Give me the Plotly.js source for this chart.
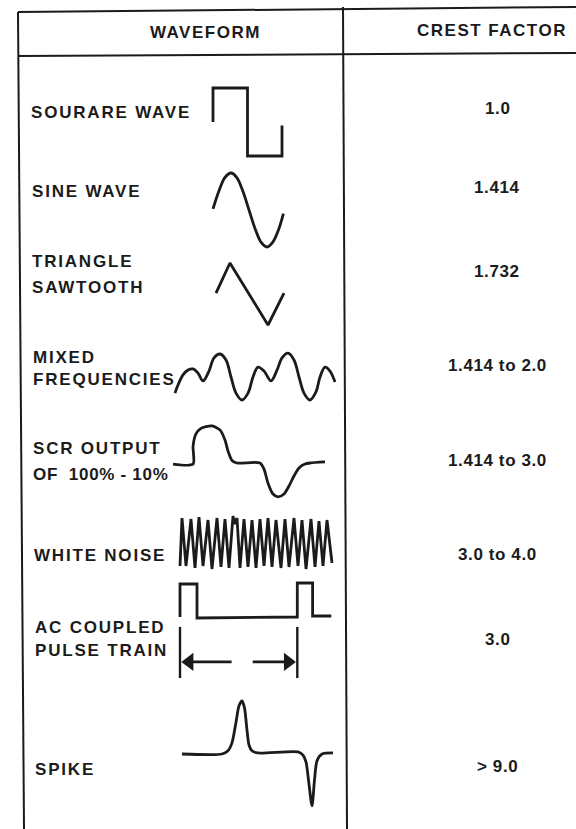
<!DOCTYPE html>
<html>
<head>
<meta charset="utf-8">
<script src="https://cdn.plot.ly/plotly-3.0.1.min.js"></script>
<style>
  html, body { margin: 0; padding: 0; background: #ffffff; }
  #chart { width: 576px; height: 829px; }
  .annotation-text { letter-spacing: 1.5px; }
</style>
</head>
<body>
<div id="chart"></div>
<script>
// ---------------- data ----------------
const headers = ["WAVEFORM", "CREST FACTOR"];
const waveformLabels = [
  "SOURARE WAVE",
  "SINE WAVE",
  "TRIANGLE<br>SAWTOOTH",
  "MIXED<br>FREQUENCIES",
  "SCR OUTPUT<br>OF\u00a0\u00a0100% - 10%",
  "WHITE NOISE",
  "AC COUPLED<br>PULSE TRAIN",
  "SPIKE"
];
const crestFactors = ["1.0", "1.414", "1.732", "1.414 to 2.0", "1.414 to 3.0", "3.0 to 4.0", "3.0", "> 9.0"];

// waveform samples (t = time units, v = amplitude units)
const squareT = [0, 0, 1, 1, 2, 2];
const squareV = [0, 1, 1, -1, -1, -0.1];

const sineT = [0, 30, 60, 90, 120, 150, 180, 210, 240, 270, 300, 330, 352];
const sineV = [0.03, 0.52, 0.88, 1, 0.87, 0.5, 0, -0.5, -0.87, -1, -0.86, -0.5, -0.1];

const triangleT = [0, 0.82, 3.06, 4];
const triangleV = [0.03, 1, -1, 0.03];

const mixedT = [0, 0.3, 0.8, 1.3, 1.8, 2.3, 2.8, 3.4, 3.9, 4.5, 5.1, 5.6, 6.1, 6.7, 7.3, 7.8, 8.3, 8.9, 9.6, 10.2, 10.7, 11.3, 11.9, 12.4, 12.9, 13.5, 14.1, 14.5, 15.0, 15.5, 16.0];
const mixedV = [-0.70, -0.35, 0.09, 0.30, 0.35, 0.17, -0.17, 0.26, 0.83, 1.0, 0.74, 0, -0.70, -1.0, -0.70, 0, 0.43, 0.26, -0.17, 0.30, 0.83, 1.04, 0.74, 0, -0.70, -1.0, -0.65, 0, 0.43, 0.26, -0.22];

const scrT = [0, 13.2, 13.2, 15.1, 18.4, 21.7, 25.7, 30.9, 34.2, 36.2, 38.8, 42.1, 57.2, 59.9, 62.5, 65.8, 69.1, 73.0, 76.3, 79.6, 82.9, 86.8, 90.1, 100];
const scrV = [-0.03, -0.03, 0.47, 0.81, 0.96, 1.01, 1.03, 0.92, 0.64, 0.33, 0.07, 0, 0, -0.17, -0.56, -0.86, -0.94, -0.86, -0.64, -0.36, -0.14, -0.03, 0, 0.03];

const noiseT = [0, 2, 6, 11, 15, 19, 23, 28, 32, 37, 41, 45, 49, 53, 55, 57, 60, 64, 68, 72, 76, 80, 84, 88, 92, 96, 101, 105, 109, 114, 118, 122, 126, 131, 135, 139, 143, 147, 152];
const noiseV = [-0.96, 0.96, -0.96, 0.92, -1.04, 1.0, -0.96, 0.88, -1.08, 0.96, -1.0, 0.92, -1.04, 1.04, 0.72, 0.96, -1.04, 0.92, -1.0, 0.88, -1.04, 0.92, -0.96, 0.96, -1.0, 0.88, -1.04, 0.92, -1.0, 0.96, -0.96, 0.88, -1.08, 0.92, -1.0, 0.84, -0.96, 0.88, -0.84];

const pulseT = [0, 0, 1, 1, 6.9, 6.9, 7.8, 7.8, 8.9];
const pulseV = [0, 1, 1, -0.03, 0, 1.03, 1.03, 0.03, 0.03];
const pulsePeriod = [0, 6.9];

const spikeT = [0, 40, 46, 50, 54, 57, 60, 62.5, 65, 67, 70, 76, 116, 121, 124, 126.5, 130, 132.5, 135, 140, 151];
const spikeV = [0, 0, 0.06, 0.21, 0.60, 0.91, 1.0, 0.87, 0.45, 0.17, 0.06, 0.02, 0.04, -0.02, -0.15, -0.49, -0.98, -0.49, -0.13, 0, 0.02];

// ---------------- layout helpers ----------------
const W = 576, H = 829;
const INK = "#1b1b1b";
const FONT = "Liberation Sans, Arial, Helvetica, sans-serif";
const px = x => x / W;
const py = y => 1 - y / H;

// calibration of each waveform's local units onto the page (pixel boxes)
const waves = [
  {t: squareT,   v: squareV,   cal: {t0: 0, t1: 2,   x0: 213, x1: 282, v0: 1, v1: -1, y0: 88,  y1: 156}, shape: "linear"},
  {t: sineT,     v: sineV,     cal: {t0: 0, t1: 360, x0: 213, x1: 285, v0: 1, v1: -1, y0: 173, y1: 247}, shape: "spline", smooth: 0.9},
  {t: triangleT, v: triangleV, cal: {t0: 0, t1: 4,   x0: 216, x1: 284, v0: 1, v1: -1, y0: 263, y1: 325}, shape: "linear"},
  {t: mixedT,    v: mixedV,    cal: {t0: 0, t1: 16,  x0: 175, x1: 335, v0: 1, v1: -1, y0: 354, y1: 400}, shape: "spline", smooth: 1.0},
  {t: scrT,      v: scrV,      cal: {t0: 0, t1: 100, x0: 173, x1: 325, v0: 1, v1: -1, y0: 427, y1: 499}, shape: "spline", smooth: 0.7},
  {t: noiseT,    v: noiseV,    cal: {t0: 0, t1: 152, x0: 180, x1: 332, v0: 1, v1: -1, y0: 517, y1: 567}, shape: "linear"},
  {t: pulseT,    v: pulseV,    cal: {t0: 0, t1: 10,  x0: 180, x1: 350, v0: 1, v1: 0,  y0: 584, y1: 617}, shape: "linear", vmin: -2.0},
  {t: spikeT,    v: spikeV,    cal: {t0: 0, t1: 151, x0: 182, x1: 333, v0: 1, v1: -1, y0: 701, y1: 807}, shape: "spline", smooth: 0.7}
];

function placeAxes(w, pad) {
  const c = w.cal;
  const sx = (c.x1 - c.x0) / (c.t1 - c.t0);
  const sy = (c.y1 - c.y0) / (c.v1 - c.v0);
  const tx = t => c.x0 + (t - c.t0) * sx;
  const vy = v => c.y0 + (v - c.v0) * sy;
  const xt = x => c.t0 + (x - c.x0) / sx;
  const yv = y => c.v0 + (y - c.y0) / sy;
  const tMin = Math.min(...w.t, c.t0), tMax = Math.max(...w.t, c.t1);
  const vMin = Math.min(...w.v, w.vmin !== undefined ? w.vmin : 0), vMax = Math.max(...w.v);
  const pL = tx(tMin) - pad, pR = tx(tMax) + pad;
  const pT = vy(vMax) - pad, pB = vy(vMin) + pad;
  return {
    xdomain: [px(pL), px(pR)], ydomain: [py(pB), py(pT)],
    xrange: [xt(pL), xt(pR)], yrange: [yv(pB), yv(pT)]
  };
}

const traces = [];
const layout = {
  width: W, height: H,
  margin: {l: 0, r: 0, t: 0, b: 0},
  paper_bgcolor: "#ffffff",
  plot_bgcolor: "rgba(0,0,0,0)",
  showlegend: false,
  shapes: [],
  annotations: []
};

waves.forEach((w, i) => {
  const n = i + 1;
  const ax = placeAxes(w, 12);
  const xa = "xaxis" + (n === 1 ? "" : n), ya = "yaxis" + (n === 1 ? "" : n);
  const xr = "x" + (n === 1 ? "" : n), yr = "y" + (n === 1 ? "" : n);
  layout[xa] = {domain: ax.xdomain, range: ax.xrange, visible: false, fixedrange: true, anchor: yr};
  layout[ya] = {domain: ax.ydomain, range: ax.yrange, visible: false, fixedrange: true, anchor: xr};
  traces.push({
    type: "scatter", mode: "lines", x: w.t, y: w.v, xaxis: xr, yaxis: yr,
    line: {color: INK, width: 2.8, shape: w.shape, smoothing: w.smooth || 1},
    hoverinfo: "skip"
  });
  if (i === 6) {
    // period marker for the pulse train
    const a = pulsePeriod[0], b = pulsePeriod[1], len = b - a;
    const yTop = -0.3, yBot = -1.85, yArr = -1.36;
    [a, b].forEach(tt => traces.push({
      type: "scatter", mode: "lines", x: [tt, tt], y: [yTop, yBot], xaxis: xr, yaxis: yr,
      line: {color: INK, width: 2.4}, hoverinfo: "skip"
    }));
    traces.push({type: "scatter", mode: "lines", x: [a + 0.3, a + 0.44 * len], y: [yArr, yArr], xaxis: xr, yaxis: yr,
      line: {color: INK, width: 2.6}, hoverinfo: "skip"});
    traces.push({type: "scatter", mode: "lines", x: [a + 0.62 * len, b - 0.3], y: [yArr, yArr], xaxis: xr, yaxis: yr,
      line: {color: INK, width: 2.6}, hoverinfo: "skip"});
    traces.push({type: "scatter", mode: "markers", x: [a + 0.55, b - 0.55], y: [yArr, yArr], xaxis: xr, yaxis: yr,
      marker: {symbol: ["triangle-left", "triangle-right"], size: 16, color: INK, line: {width: 0}}, hoverinfo: "skip"});
  }
});

// table rules
const rules = [
  [18, 12, 576, 7],
  [18, 56, 576, 53],
  [18, 12, 24, 829],
  [343, 7, 347, 829]
];
rules.forEach(r => layout.shapes.push({
  type: "line", xref: "paper", yref: "paper",
  x0: px(r[0]), y0: py(r[1]), x1: px(r[2]), y1: py(r[3]),
  line: {color: INK, width: 2}
}));

// text
const headerPos = [[205, 33], [492, 31]];
headers.forEach((h, i) => layout.annotations.push({
  text: h, xref: "paper", yref: "paper", x: px(headerPos[i][0]), y: py(headerPos[i][1]),
  xanchor: "center", yanchor: "middle", showarrow: false,
  font: {family: FONT, size: 17, color: INK, weight: "bold"}
}));

const labelX = [29, 30, 30, 31, 31, 32, 33, 33];
const labelLineY = [[112], [192], [262, 287], [357, 380], [449, 474], [555], [627, 650], [769]];
waveformLabels.forEach((lab, i) => {
  lab.split("<br>").forEach((line, j) => {
    const ls = /\d/.test(line) ? 0.7 : 1.8;
    layout.annotations.push({
      text: '<span style="letter-spacing:' + ls + 'px">' + line + '</span>',
      xref: "paper", yref: "paper", x: px(labelX[i]), y: py(labelLineY[i][j]),
      xanchor: "left", yanchor: "middle", showarrow: false,
      font: {family: FONT, size: 17, color: INK, weight: "bold"}
    });
  });
});

const valueY = [108, 188, 271, 365, 461, 554, 639, 766];
crestFactors.forEach((c, i) => layout.annotations.push({
  text: '<span style="letter-spacing:0.6px">' + c.replace(">", "&gt;") + '</span>',
  xref: "paper", yref: "paper", x: px(497), y: py(valueY[i]),
  xanchor: "center", yanchor: "middle", showarrow: false,
  font: {family: FONT, size: 17, color: INK, weight: "bold"}
}));

Plotly.newPlot("chart", traces, layout, {staticPlot: true, displayModeBar: false});
</script>
</body>
</html>
